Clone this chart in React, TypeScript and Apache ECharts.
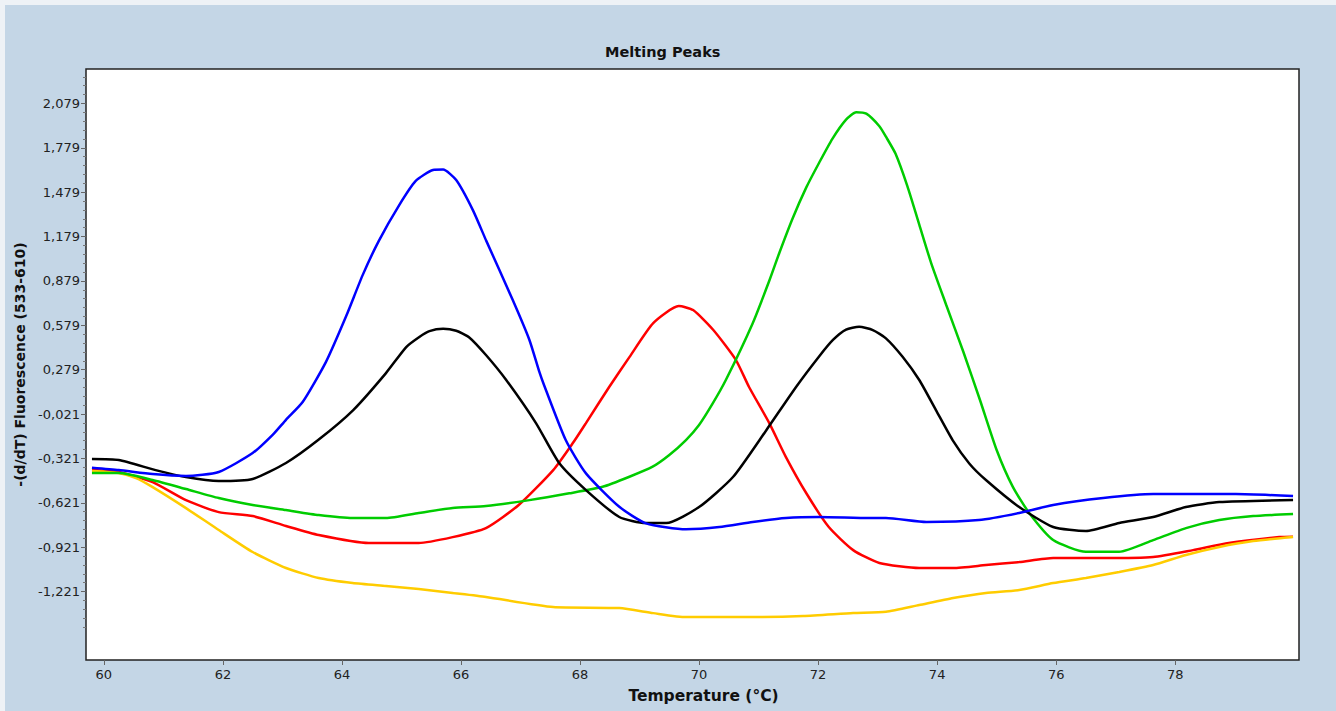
import React, { useEffect, useRef } from "react";
import * as echarts from "echarts";

const chartTitle = "Melting Peaks";
const xAxisName = "Temperature (°C)";
const yAxisName = "-(d/dT) Fluorescence (533-610)";

const xTicks = [60, 62, 64, 66, 68, 70, 72, 74, 76, 78];
const yTicks = [-1.221, -0.921, -0.621, -0.321, -0.021, 0.279, 0.579, 0.879, 1.179, 1.479, 1.779, 2.079];
const yMinorStep = 0.06;

const redCurve: [number, number][] = [
  [59.8, -0.4], [60.25, -0.413], [60.82, -0.481], [61.38, -0.603], [61.93, -0.684], [62.5, -0.711],
  [63.06, -0.778], [63.61, -0.839], [64.45, -0.893], [65.29, -0.893], [65.86, -0.853], [66.42, -0.792],
  [66.97, -0.636], [67.55, -0.4], [67.88, -0.217], [68.1, -0.082], [68.49, 0.162], [68.83, 0.364],
  [69.23, 0.594], [69.66, 0.709], [69.9, 0.682], [70.24, 0.547], [70.62, 0.344], [70.84, 0.162],
  [71.18, -0.082], [71.46, -0.312], [71.8, -0.555], [72.18, -0.785], [72.59, -0.941], [73.03, -1.028],
  [73.7, -1.062], [74.27, -1.062], [74.82, -1.042], [75.38, -1.022], [75.95, -0.995], [76.79, -0.995],
  [77.63, -0.988], [78.3, -0.941], [78.9, -0.893], [79.75, -0.853], [79.98, -0.85],
];

const yellowCurve: [number, number][] = [
  [59.8, -0.406], [60.25, -0.42], [60.54, -0.454], [60.82, -0.515], [61.38, -0.657], [61.93, -0.805],
  [62.5, -0.954], [63.06, -1.062], [63.61, -1.13], [64.18, -1.164], [64.74, -1.184], [65.29, -1.204],
  [65.86, -1.231], [66.42, -1.258], [67.55, -1.326], [68.66, -1.333], [69.23, -1.367], [69.78, -1.394],
  [70.9, -1.394], [71.75, -1.387], [72.59, -1.367], [73.14, -1.358], [73.7, -1.312], [74.27, -1.265],
  [74.82, -1.231], [75.38, -1.211], [75.95, -1.164], [76.5, -1.13], [77.06, -1.089], [77.63, -1.042],
  [78.18, -0.974], [78.74, -0.92], [79.31, -0.88], [79.98, -0.853],
];

const greenCurve: [number, number][] = [
  [59.8, -0.42], [60.25, -0.42], [60.82, -0.467], [61.38, -0.528], [61.93, -0.589], [62.5, -0.636],
  [63.06, -0.67], [63.61, -0.704], [64.18, -0.724], [64.74, -0.724], [65.29, -0.69], [65.86, -0.657],
  [66.42, -0.643], [67.15, -0.603], [67.82, -0.557], [68.38, -0.513], [68.83, -0.445], [69.22, -0.377],
  [69.5, -0.298], [69.78, -0.197], [70.0, -0.095], [70.23, 0.051], [70.45, 0.209], [70.9, 0.592],
  [71.18, 0.88], [71.35, 1.07], [71.57, 1.3], [71.8, 1.51], [72.02, 1.68], [72.24, 1.84],
  [72.47, 1.97], [72.64, 2.02], [72.81, 2.01], [73.03, 1.925], [73.14, 1.854], [73.3, 1.74],
  [73.5, 1.52], [73.7, 1.26], [73.9, 1.0], [74.15, 0.72], [74.44, 0.4], [74.72, 0.074], [75.0, -0.264],
  [75.27, -0.512], [75.55, -0.692], [75.95, -0.873], [76.5, -0.952], [77.06, -0.952], [77.63, -0.873],
  [78.18, -0.792], [78.74, -0.738], [79.31, -0.711], [79.98, -0.697],
];

const blackCurve: [number, number][] = [
  [59.8, -0.325], [60.25, -0.332], [60.87, -0.4], [61.38, -0.447], [61.93, -0.474], [62.5, -0.46],
  [63.06, -0.352], [63.6, -0.197], [64.19, 0.006], [64.74, 0.256], [65.08, 0.432], [65.3, 0.5],
  [65.47, 0.54], [65.7, 0.556], [65.92, 0.542], [66.13, 0.5], [66.42, 0.378], [66.76, 0.209],
  [67.26, -0.082], [67.65, -0.352], [68.1, -0.535], [68.66, -0.717], [69.1, -0.758], [69.45, -0.758],
  [70.0, -0.65], [70.57, -0.447], [71.13, -0.13], [71.63, 0.162], [72.02, 0.37], [72.25, 0.48],
  [72.47, 0.55], [72.69, 0.569], [72.92, 0.547], [73.14, 0.491], [73.42, 0.366], [73.7, 0.209],
  [73.98, 0.006], [74.26, -0.197], [74.54, -0.355], [74.82, -0.467], [75.38, -0.65], [75.95, -0.785],
  [76.5, -0.812], [77.06, -0.758], [77.63, -0.717], [78.18, -0.65], [78.74, -0.616], [79.98, -0.602],
];

const blueCurve: [number, number][] = [
  [59.8, -0.384], [60.25, -0.4], [60.82, -0.427], [61.38, -0.44], [61.93, -0.413], [62.5, -0.285],
  [62.84, -0.16], [63.06, -0.06], [63.34, 0.06], [63.73, 0.33], [64.07, 0.64], [64.35, 0.92],
  [64.62, 1.15], [64.96, 1.39], [65.24, 1.555], [65.53, 1.629], [65.7, 1.632], [65.92, 1.561],
  [66.2, 1.358], [66.42, 1.155], [66.87, 0.75], [67.15, 0.48], [67.32, 0.26], [67.4, 0.17],
  [67.76, -0.197], [68.1, -0.422], [68.66, -0.648], [69.11, -0.76], [69.78, -0.8], [70.34, -0.785],
  [70.9, -0.751], [71.46, -0.724], [72.02, -0.717], [72.86, -0.724], [73.14, -0.724], [73.82, -0.751],
  [74.7, -0.738], [75.38, -0.69], [75.95, -0.636], [76.79, -0.589], [77.63, -0.562], [79.02, -0.562],
  [79.98, -0.575],
];

const curveNames = ["red", "yellow", "green", "black", "blue"];
const curveColors = ["#ff0000", "#ffcc00", "#00cc00", "#000000", "#0000ff"];
const curveData = [redCurve, yellowCurve, greenCurve, blackCurve, blueCurve];

const fmt = (v: number) => v.toFixed(3).replace(".", ",");

export default function App() {
  const ref = useRef<HTMLDivElement>(null);
  useEffect(() => {
    if (!ref.current) return;
    const chart = echarts.init(ref.current, null, { renderer: "svg" });
    const yMin = -1.684;
    const yMax = 2.312;
    const minors: number[] = [];
    const start = yTicks[0] - 4 * yMinorStep;
    for (let i = 0; ; i++) {
      const v = +(start + i * yMinorStep).toFixed(3);
      if (v > yMax) break;
      if (v >= yMin && !yTicks.some((t) => Math.abs(t - v) < 1e-6)) minors.push(v);
    }
    const labelFont = { fontFamily: "DejaVu Sans", fontSize: 13, color: "#222" };
    chart.setOption({
      animation: false,
      backgroundColor: "#c4d6e6",
      title: {
        text: chartTitle,
        left: 600,
        top: 39,
        textStyle: { fontFamily: "DejaVu Sans", fontSize: 14.5, fontWeight: "bold", color: "#111" },
      },
      graphic: [
        { type: "rect", z: 100, shape: { x: 0, y: 0, width: 1336, height: 5 }, style: { fill: "#eef2f6" } },
        { type: "rect", z: 100, shape: { x: 0, y: 0, width: 5, height: 711 }, style: { fill: "#eef2f6" } },
      ],
      grid: {
        left: 86,
        right: 37,
        top: 69,
        bottom: 51,
        show: true,
        backgroundColor: "#ffffff",
        borderColor: "#222",
        borderWidth: 1.5,
      },
      xAxis: {
        type: "value",
        min: 59.7,
        max: 80.08,
        name: xAxisName,
        nameLocation: "middle",
        nameGap: 28,
        nameTextStyle: { fontFamily: "DejaVu Sans", fontSize: 15.5, fontWeight: "bold", color: "#111", padding: [0, 0, 0, 22] },
        axisLine: { show: false, onZero: false },
        splitLine: { show: false },
        axisTick: { show: true, customValues: xTicks, length: 5, lineStyle: { color: "#666" } },
        axisLabel: { customValues: xTicks, margin: 8, ...labelFont, formatter: (v: number) => String(v) },
      },
      yAxis: [
        {
          type: "value",
          min: yMin,
          max: yMax,
          position: "left",
          name: yAxisName,
          nameLocation: "middle",
          nameGap: 50,
          nameTextStyle: { fontFamily: "DejaVu Sans", fontSize: 14, fontWeight: "bold", color: "#111" },
          axisLine: { show: false, onZero: false },
          splitLine: { show: false },
          axisTick: { show: true, customValues: yTicks, length: 5, lineStyle: { color: "#666" } },
          axisLabel: { customValues: yTicks, margin: 6, ...labelFont, formatter: (v: number) => fmt(v) },
        },
        {
          type: "value",
          min: yMin,
          max: yMax,
          position: "left",
          offset: 0,
          axisLine: { show: false, onZero: false },
          splitLine: { show: false },
          axisLabel: { show: false, customValues: minors },
          axisTick: { show: true, customValues: minors, length: 3, lineStyle: { color: "#777" } },
        },
      ],
      series: curveData.map((d, i) => ({
        name: curveNames[i],
        type: "line",
        data: d,
        yAxisIndex: 0,
        showSymbol: false,
        symbol: "none",
        smooth: 0.2,
        lineStyle: { color: curveColors[i], width: 2.5 },
        z: 2 + i,
      })),
    });
    return () => chart.dispose();
  }, []);
  return <div ref={ref} style={{ position: "fixed", left: 0, top: 0, width: 1336, height: 711 }} />;
}
